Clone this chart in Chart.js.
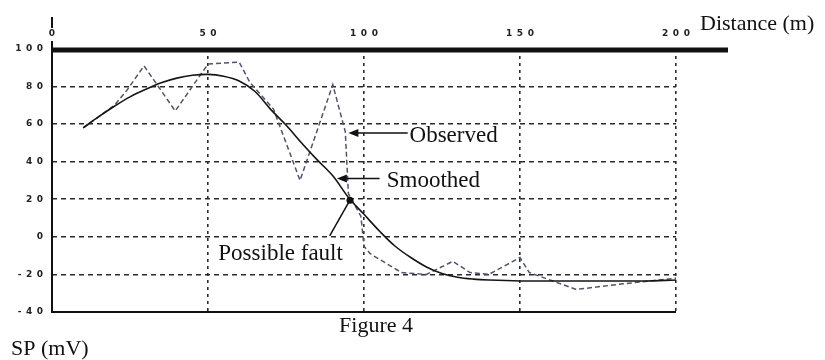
<!DOCTYPE html>
<html lang="en">
<head>
    <meta charset="UTF-8">
    <title>Figure 4 - SP profile</title>
    <script src="https://cdn.jsdelivr.net/npm/chart.js"></script>
    <style>
        body { margin: 0; background: #fff; }
    </style>
</head>
<body>
    <canvas id="spChart" width="825" height="360"></canvas>
    <script>
        // distance (m) and SP (mV)
        const smoothX = [10, 15, 20, 25, 30, 35, 40, 45, 50, 55, 60, 65, 70, 75, 80, 85, 90, 95, 100, 105, 110, 115, 120, 125, 130, 135, 140, 150, 160, 170, 180, 190, 200];
        const smoothY = [58, 64, 69.5, 74.5, 78.5, 82, 84.5, 86, 86.5, 85.5, 83, 77.5, 68, 59.5, 50, 41, 32.5, 21, 12, 3, -5, -11, -16, -19.5, -21.5, -22.5, -23, -23.5, -23.5, -23.5, -23.5, -23.5, -23];
        const obsX = [10, 20, 24, 29.5, 39.5, 50, 60, 63.5, 71, 79.5, 90, 94, 95, 99, 100, 102, 112, 120, 128.5, 134, 140, 150, 153, 168, 183, 200];
        const obsY = [58, 70, 78, 91, 67, 92, 93, 82, 68, 30, 81, 56, 23, 11, -5, -9, -19, -20, -13, -19, -20, -11, -19, -28, -25, -22];
        const xTicks = [0, 50, 100, 150, 200];
        const yTicks = [100, 80, 60, 40, 20, 0, -20, -40];

        const toPts = (xs, ys) => xs.map((x, i) => ({ x: x, y: ys[i] }));
        const spaced = v => String(v).split('').join('\u2002');

        // axis lines, arrows and captions
        const decor = {
            id: 'decor',
            afterDatasetsDraw(chart) {
                const { ctx, chartArea: a, scales: { x, y } } = chart;
                ctx.save();
                ctx.strokeStyle = '#111';
                ctx.fillStyle = '#111';
                // thick top line
                ctx.lineWidth = 5;
                ctx.beginPath();
                ctx.moveTo(a.left, y.getPixelForValue(100) + 1);
                ctx.lineTo(728, y.getPixelForValue(100) + 1);
                ctx.stroke();
                // left axis (gap for the "0" label) and bottom axis
                const x0 = x.getPixelForValue(0);
                ctx.lineWidth = 2;
                ctx.beginPath();
                ctx.moveTo(x0, 17);
                ctx.lineTo(x0, 28);
                ctx.moveTo(x0, 41);
                ctx.lineTo(x0, a.bottom);
                ctx.lineTo(x.getPixelForValue(200), a.bottom);
                ctx.stroke();

                const arrow = (x0, y0, x1) => {
                    const px = x.getPixelForValue(x0), py = y.getPixelForValue(y0);
                    const ex = x.getPixelForValue(x1);
                    ctx.lineWidth = 1.5;
                    ctx.beginPath();
                    ctx.moveTo(px + 6, py);
                    ctx.lineTo(ex, py);
                    ctx.stroke();
                    ctx.beginPath();
                    ctx.moveTo(px, py);
                    ctx.lineTo(px + 10, py - 4);
                    ctx.lineTo(px + 10, py + 4);
                    ctx.closePath();
                    ctx.fill();
                };
                ctx.font = '23px "Liberation Serif", "Times New Roman", serif';
                ctx.textBaseline = 'middle';
                ctx.textAlign = 'left';
                arrow(95, 55.3, 114);
                ctx.fillText('Observed', x.getPixelForValue(114.6), y.getPixelForValue(53.5));
                arrow(91.3, 31, 105);
                ctx.fillText('Smoothed', x.getPixelForValue(107.3), y.getPixelForValue(29.6));

                // possible fault marker
                const fx = x.getPixelForValue(95.5), fy = y.getPixelForValue(19.5);
                ctx.beginPath();
                ctx.arc(fx, fy, 3.5, 0, Math.PI * 2);
                ctx.fill();
                ctx.lineWidth = 1.5;
                ctx.beginPath();
                ctx.moveTo(fx, fy);
                ctx.lineTo(x.getPixelForValue(89), y.getPixelForValue(0.5));
                ctx.stroke();
                ctx.fillText('Possible fault', x.getPixelForValue(53.3), y.getPixelForValue(-9));

                ctx.font = '22px "Liberation Serif", "Times New Roman", serif';
                ctx.textBaseline = 'alphabetic';
                ctx.fillText('Distance (m)', 700, 30);
                ctx.fillText('SP (mV)', 11, 355);
                ctx.textAlign = 'center';
                ctx.fillText('Figure 4', 376, 332);
                ctx.restore();
            }
        };

        const ctx = document.getElementById('spChart').getContext('2d');
        new Chart(ctx, {
            type: 'scatter',
            data: {
                datasets: [
                    {
                        label: 'Smoothed',
                        data: toPts(smoothX, smoothY),
                        showLine: true,
                        borderColor: '#151515',
                        borderWidth: 1.6,
                        pointRadius: 0,
                        tension: 0.35
                    },
                    {
                        label: 'Observed',
                        data: toPts(obsX, obsY),
                        showLine: true,
                        borderColor: '#50546c',
                        borderWidth: 1.5,
                        borderDash: [5, 3],
                        pointRadius: 0,
                        tension: 0
                    }
                ]
            },
            options: {
                responsive: false,
                animation: false,
                layout: { padding: { left: 0, top: 0, right: 149, bottom: 48 } },
                plugins: {
                    legend: { display: false },
                    tooltip: { enabled: false }
                },
                scales: {
                    x: {
                        type: 'linear',
                        position: 'top',
                        min: 0,
                        max: 200,
                        afterBuildTicks: s => { s.ticks = xTicks.map(v => ({ value: v })); },
                        afterFit: s => { s.height = 49; },
                        ticks: {
                            padding: 10,
                            color: '#222',
                            font: { family: 'DejaVu Sans', size: 9, weight: 'bold' },
                            callback: v => spaced(v)
                        },
                        grid: {
                            drawTicks: false,
                            tickLength: 0,
                            lineWidth: 1.6,
                            color: c => (c.tick && c.tick.value === 0) ? 'rgba(0,0,0,0)' : '#2a2a2a'
                        },
                        border: { display: false, dash: [3, 4] }
                    },
                    y: {
                        min: -40,
                        max: 100,
                        afterBuildTicks: s => { s.ticks = yTicks.map(v => ({ value: v })); },
                        afterFit: s => { s.width = 52; },
                        ticks: {
                            padding: 9,
                            color: '#222',
                            font: { family: 'DejaVu Sans', size: 9, weight: 'bold' },
                            callback: v => spaced(v)
                        },
                        grid: {
                            drawTicks: false,
                            tickLength: 0,
                            lineWidth: 1.6,
                            color: c => (c.tick && (c.tick.value === 100 || c.tick.value === -40)) ? 'rgba(0,0,0,0)' : '#2a2a2a'
                        },
                        border: { display: false, dash: [5, 4] }
                    }
                }
            },
            plugins: [decor]
        });
    </script>
</body>
</html>
